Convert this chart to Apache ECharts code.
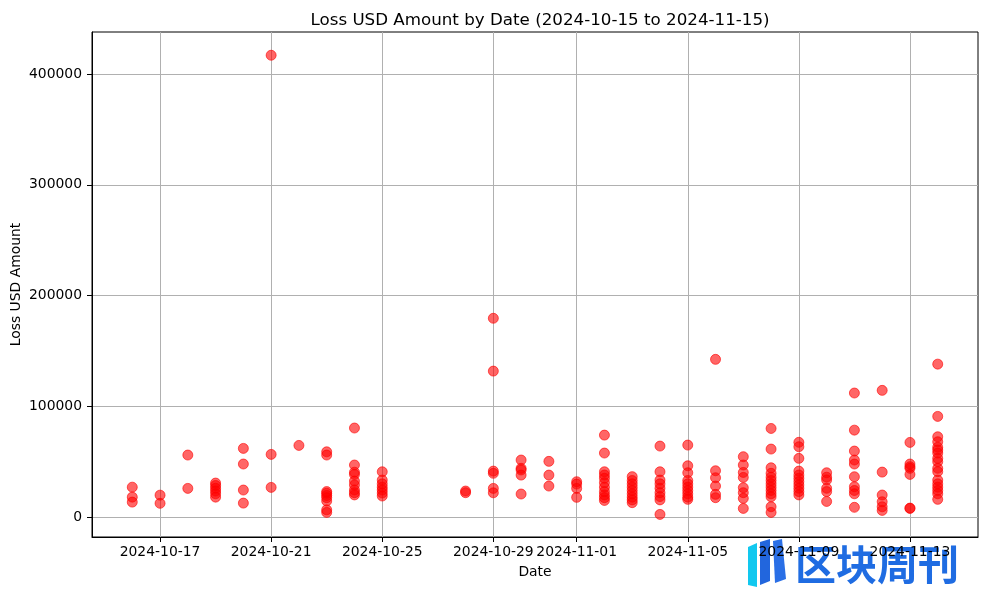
<!DOCTYPE html>
<html>
<head>
<meta charset="utf-8">
<script src="https://cdn.jsdelivr.net/npm/echarts@6/dist/echarts.min.js"></script>
<style>html,body{margin:0;padding:0;background:#fff;}#c{width:989px;height:590px;}</style>
</head>
<body>
<div id="c"></div>
<script>
const dates = ['2024-10-16','2024-10-17','2024-10-18','2024-10-19','2024-10-20','2024-10-21','2024-10-22','2024-10-23','2024-10-24','2024-10-25','2024-10-28','2024-10-29','2024-10-30','2024-10-31','2024-11-01','2024-11-02','2024-11-03','2024-11-04','2024-11-05','2024-11-06','2024-11-07','2024-11-08','2024-11-09','2024-11-10','2024-11-11','2024-11-12','2024-11-13','2024-11-14'];
const lossByDate = [
  [27000, 18000, 13500],
  [19800, 12400],
  [56000, 25900],
  [30700, 28500, 26000, 23500, 21000, 18000],
  [62000, 47900, 24400, 12600],
  [417000, 56600, 26800],
  [64700],
  [58900, 56000, 23000, 21500, 19500, 17500, 14500, 6500, 4200],
  [80400, 47000, 40500, 38500, 32500, 29000, 24500, 22000, 20000],
  [40900, 33400, 30000, 27000, 24400, 21700, 19000],
  [23500, 22000],
  [179500, 131800, 41500, 39500, 25900, 21900],
  [51500, 44000, 42500, 37900, 20800],
  [50300, 37900, 28000],
  [31900, 29800, 25900, 17800],
  [74000, 57800, 40900, 38000, 35000, 31000, 27000, 23000, 20000, 17500, 15000],
  [36500, 33000, 30000, 27000, 24000, 21000, 18000, 15500, 13000],
  [64100, 40900, 33400, 30000, 26000, 22000, 18500, 15500, 2400],
  [65000, 46300, 40000, 33000, 30000, 27000, 24000, 21000, 18000, 16000],
  [142400, 41800, 35500, 28000, 20500, 17500],
  [54500, 47000, 40300, 35800, 26500, 22000, 16900, 7800],
  [80000, 61400, 44500, 39500, 36000, 33000, 30000, 27000, 24000, 21000, 18300, 9300, 4200],
  [67500, 63500, 53000, 41500, 38000, 35000, 32000, 29000, 26000, 23000, 20000],
  [40000, 36000, 33500, 26000, 23000, 14100],
  [112000, 78500, 59600, 51500, 47900, 36400, 27400, 24000, 21000, 8800],
  [114400, 40600, 19900, 13800, 9300, 6000],
  [67400, 47900, 45500, 44000, 38500, 8100, 7800],
  [138100, 90900, 72500, 68000, 63000, 60500, 57800, 53000, 50000, 44000, 41000, 33400, 30000, 27000, 24000, 21000, 16000]
];
const xTickLabels = ['2024-10-17','2024-10-21','2024-10-25','2024-10-29','2024-11-01','2024-11-05','2024-11-09','2024-11-13'];
const yTickValues = [0, 100000, 200000, 300000, 400000];

function toTs(s){ const p = s.split('-').map(Number); return new Date(p[0], p[1]-1, p[2]).getTime(); }
function fmt(ts){ const d = new Date(Math.round(ts)); const m = d.getMonth()+1, dd = d.getDate(); return d.getFullYear() + '-' + (m<10?'0':'') + m + '-' + (dd<10?'0':'') + dd; }

const points = [];
dates.forEach((d, i) => lossByDate[i].forEach(v => points.push([toTs(d), v])));
const xFirst = toTs(dates[0]), xLast = toTs(dates[dates.length-1]);
const xPad = (xLast - xFirst) * 0.05;
const xTicks = xTickLabels.map(toTs);

const FONT = 'DejaVu Sans';
const chart = echarts.init(document.getElementById('c'), null, {renderer: 'canvas'});
chart.setOption({
  animation: false,
  backgroundColor: '#fff',
  title: {
    text: 'Loss USD Amount by Date (2024-10-15 to 2024-11-15)',
    left: 535, top: 7, textAlign: 'center',
    textStyle: {fontFamily: FONT, fontSize: 16.7, fontWeight: 'normal', color: '#000'}
  },
  grid: {left: 92, right: 11, top: 32, bottom: 53, show: true, borderColor: '#000', borderWidth: 1, containLabel: false, outerBoundsMode: 'none'},
  xAxis: {
    type: 'value',
    min: xFirst - xPad, max: xLast + xPad,
    name: 'Date', nameLocation: 'middle', nameGap: 28, nameMoveOverlap: false,
    nameTextStyle: {fontFamily: FONT, fontSize: 13.9, color: '#000'},
    axisLine: {show: true, onZero: false, lineStyle: {color: '#000', width: 1}},
    axisTick: {show: true, length: 5, lineStyle: {color: '#000'}, customValues: xTicks},
    axisLabel: {show: true, margin: 8, fontFamily: FONT, fontSize: 13.9, color: '#000', customValues: xTicks, formatter: v => fmt(v), hideOverlap: false, showMinLabel: true, showMaxLabel: true},
    splitLine: {show: true, lineStyle: {color: '#b0b0b0', width: 1}}
  },
  yAxis: {
    type: 'value',
    min: -18000, max: 438000,
    name: 'Loss USD Amount', nameLocation: 'middle', nameGap: 69, nameRotate: 90, nameMoveOverlap: false,
    nameTextStyle: {fontFamily: FONT, fontSize: 13.9, color: '#000'},
    axisLine: {show: true, onZero: false, lineStyle: {color: '#000', width: 1}},
    axisTick: {show: true, length: 5, lineStyle: {color: '#000'}, customValues: yTickValues},
    axisLabel: {show: true, margin: 10, fontFamily: FONT, fontSize: 13.9, color: '#000', customValues: yTickValues, formatter: v => String(v), showMinLabel: true, showMaxLabel: true},
    splitLine: {show: true, lineStyle: {color: '#b0b0b0', width: 1}}
  },
  series: [{
    type: 'scatter',
    data: points,
    symbol: 'circle',
    symbolSize: 10,
    itemStyle: {color: 'rgba(255,0,0,0.6)', borderColor: 'rgba(255,0,0,0.6)', borderWidth: 1, opacity: 1}
  }],
  graphic: [{
    type: 'group', left: 748, top: 539, z: 100,
    children: [
      {type: 'polygon', shape: {points: [[0,8],[9,4],[9,48],[0,46]]}, style: {fill: '#12c8ef'}},
      {type: 'polygon', shape: {points: [[12,3],[22,0],[22,42],[12,46]]}, style: {fill: '#2266dd'}},
      {type: 'polygon', shape: {points: [[25,2],[34,0],[38,40],[27,44]]}, style: {fill: '#2a6fe6'}},
      {type: 'text', x: 47, y: 5, style: {text: '区块周刊', font: 'bold 41px "Noto Sans CJK SC"', fill: '#1f6ce2'}}
    ]
  }]
});
</script>
</body>
</html>
